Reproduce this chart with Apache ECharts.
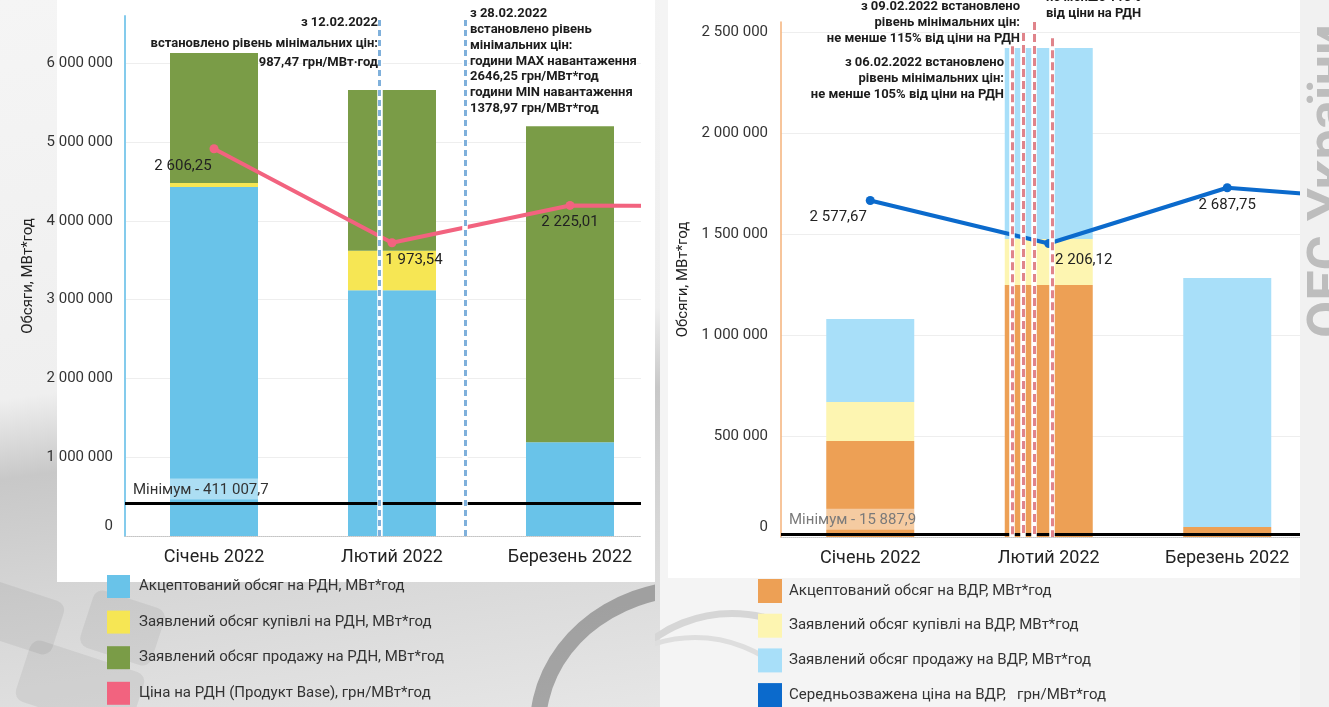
<!DOCTYPE html>
<html>
<head>
<meta charset="utf-8">
<script src="https://cdn.jsdelivr.net/npm/echarts@6/dist/echarts.min.js"></script>
<style>
  html, body { margin:0; padding:0; width:1329px; height:707px; overflow:hidden; background:#f4f4f4; font-family:Roboto, sans-serif; }
  .bg { position:absolute; }
  .clip { position:absolute; top:0; height:707px; overflow:hidden; }
  .key { position:absolute; border-radius:10px; background:rgba(0,0,0,0.06); }
  #mark { position:absolute; left:1300px; top:338px; transform-origin:left top; transform:rotate(-90deg);
          font:bold 54px Roboto, sans-serif; color:#bdbdbd; white-space:nowrap; line-height:1; }
</style>
</head>
<body>
<!-- background photo, rough -->
<div class="bg" style="left:0;top:0;width:660px;height:707px;background:linear-gradient(172deg,#f5f5f5 0%,#efefef 50%,#c8c8c8 60%,#d6d6d6 76%,#e6e6e6 100%)"></div>
<div class="key" style="left:-20px;top:590px;width:80px;height:56px;transform:rotate(18deg)"></div>
<div class="key" style="left:85px;top:598px;width:75px;height:60px;transform:rotate(18deg)"></div>
<div class="key" style="left:20px;top:655px;width:120px;height:64px;transform:rotate(18deg)"></div>
<div class="clip" style="left:440px;top:560px;width:215px;height:147px">
  <div class="bg" style="left:90px;top:20px;width:300px;height:260px;border-radius:50%;border:16px solid rgba(70,70,70,0.4)"></div>
</div>
<div class="bg" style="left:57px;top:0;width:598px;height:582px;background:#fff"></div>
<div class="bg" style="left:668px;top:0;width:632px;height:578px;background:#fff"></div>
<div class="bg" style="left:1300px;top:0;width:29px;height:707px;background:#f1f1f1"></div>
<div class="clip" style="left:655px;top:590px;width:110px;height:117px">
  <div class="bg" style="left:-60px;top:20px;width:260px;height:260px;border-radius:50%;border:7px solid #d6d6d6"></div>
  <div class="bg" style="left:-95px;top:45px;width:260px;height:260px;border-radius:50%;border:5px solid #dedede"></div>
</div>
<div id="mark">ОЕС України</div>

<div class="clip" style="left:0;width:641px"><div id="chartLeft" style="width:900px;height:707px"></div></div>
<div class="clip" style="left:660px;width:640px"><div id="chartRight" style="width:900px;height:707px"></div></div>

<script>
  var months = ['Січень 2022', 'Лютий 2022', 'Березень 2022', 'Квітень 2022'];

  // РДН, МВт*год
  var rdnAccepted = [4430000, 3120000, 1190000, null];
  var rdnBuy      = [50000, 500000, 0, null];
  var rdnSell     = [1650000, 2040000, 4010000, null];
  // ціна РДН, грн/МВт*год
  var rdnPrice    = [2606.25, 1973.54, 2225.01, 2220];
  var rdnMinimum  = 411007.7;
  // дати рішень (місяць + частка місяця)
  var rdnRuleDays = [1.43, 1.905];

  // ВДР, МВт*год
  var vdrAccepted = [475000, 1248000, 50000, null];
  var vdrBuy      = [193000, 227000, 0, null];
  var vdrSell     = [411000, 946000, 1232000, null];
  var vdrPrice    = [2577.67, 2206.12, 2687.75, 2570];
  var vdrMinimum  = 15887.9;
  var vdrRuleDays = [1.294, 1.356, 1.417, 1.518];
  var vdrRuleTops = [2430000, 2495000, 2550000, 2470000];

  var rdnNames = ['Акцептований обсяг на РДН, МВт*год', 'Заявлений обсяг купівлі на РДН, МВт*год',
                  'Заявлений обсяг продажу на РДН, МВт*год', 'Ціна на РДН (Продукт Base), грн/МВт*год'];
  var vdrNames = ['Акцептований обсяг на ВДР, МВт*год', 'Заявлений обсяг купівлі на ВДР, МВт*год',
                  'Заявлений обсяг продажу на ВДР, МВт*год', 'Середньозважена ціна на ВДР,   грн/МВт*год'];

  var rdnNotes = [
    { text: 'з 12.02.2022', x: 378, y: 23, align: 'right' },
    { text: 'встановлено рівень мінімальних цін:', x: 378, y: 44, align: 'right' },
    { text: '987,47 грн/МВт·год', x: 378, y: 63, align: 'right' },
    { text: 'з 28.02.2022\nвстановлено рівень\nмінімальних цін:\nгодини MAX навантаження\n2646,25 грн/МВт*год\nгодини MIN навантаження\n1378,97 грн/МВт*год',
      x: 470, y: 6, align: 'left', top: true }
  ];
  var vdrNotes = [
    { text: 'з 09.02.2022 встановлено\nрівень мінімальних цін:\nне менше 115% від ціни на РДН', x: 360, y: -1, align: 'right', top: true },
    { text: 'з 06.02.2022 встановлено\nрівень мінімальних цін:\nне менше 105% від ціни на РДН', x: 344, y: 55, align: 'right', top: true },
    { text: 'не менше 110%\nвід ціни на РДН', x: 386, y: -10, align: 'left', top: true }
  ];

  function groupNum(s) { return s.replace(/\B(?=(\d{3})+(?!\d))/g, ' '); }
  function fmtInt(v) { return groupNum(String(Math.round(v))); }
  function fmtDec(v, d) { var p = v.toFixed(d).split('.'); return groupNum(p[0]) + ',' + p[1]; }

  function buildOption(c) {
    var priceData = c.price.map(function (v, i) {
      return { value: v, label: { offset: [c.labelShift[i], 0], show: i < 3 } };
    });
    var rules = [];
    c.ruleDays.forEach(function (d, i) {
      [{ color: '#fff', width: 5.5, type: 'solid' }, { color: c.ruleColor, width: 3, type: c.ruleDash }].forEach(function (ls) {
        if (c.ruleTops) {
          rules.push([{ coord: [d, c.ruleTops[i]], lineStyle: ls }, { coord: [d, 0] }]);
        } else {
          rules.push({ xAxis: d, lineStyle: ls });
        }
      });
    });
    return {
      animation: false,
      textStyle: { fontFamily: 'Roboto' },
      grid: { left: c.grid[0], top: c.grid[1], width: c.grid[2], height: c.grid[3], outerBoundsMode: 'none' },
      legend: {
        orient: 'vertical', left: c.legend[0], top: c.legend[1], padding: 0, height: 160,
        itemWidth: c.legend[2], itemHeight: c.legend[2], itemGap: c.legend[3],
        icon: 'rect', selectedMode: false,
        textStyle: { fontSize: 15, color: '#333', padding: [3, 0, 0, c.legend[4]] },
        data: c.names
      },
      xAxis: [{
        type: 'category', data: months,
        axisLine: { lineStyle: { color: '#c4c4c4', type: 'dotted' } },
        axisTick: { length: 7, lineStyle: { color: '#dedede' } },
        axisLabel: { fontSize: 18, color: '#222', margin: 12 }
      }, {
        type: 'value', min: 0, max: months.length, show: false
      }],
      yAxis: [{
        type: 'value', min: 0, max: c.volMax, interval: c.volStep,
        name: 'Обсяги, МВт*год', nameLocation: 'middle', nameGap: 75,
        nameTextStyle: { fontSize: 15, color: '#222' },
        axisLine: { show: true, lineStyle: { color: c.axisColor, width: c.axisWidth } },
        axisTick: { show: false },
        axisLabel: {
          fontSize: 15, color: '#333', margin: c.labelMargin, showMaxLabel: false,
          formatter: function (v) { return v === 0 ? '{z|0}' : fmtInt(v); },
          rich: { z: { fontSize: 15, color: '#333', padding: [0, 0, 20, 0] } }
        },
        splitLine: { lineStyle: { color: '#eeeeee' }, showMaxLine: false }
      }, {
        type: 'value', min: c.priceRange[0], max: c.priceRange[1], show: false
      }],
      graphic: c.notes.map(function (n) {
        return {
          type: 'text', x: n.x, y: n.y, z: 10,
          style: {
            text: n.text, textAlign: n.align, textVerticalAlign: n.top ? 'top' : 'middle',
            font: 'bold 13px Roboto', fill: '#1c1c1c', lineHeight: 15.8
          }
        };
      }),
      series: [
        { name: c.names[0], type: 'bar', stack: 'v', barWidth: 88, data: c.accepted, itemStyle: { color: c.colors[0] } },
        { name: c.names[1], type: 'bar', stack: 'v', barWidth: 88, data: c.buy, itemStyle: { color: c.colors[1] } },
        { name: c.names[2], type: 'bar', stack: 'v', barWidth: 88, data: c.sell, itemStyle: { color: c.colors[2] } },
        {
          name: c.names[3], type: 'line', yAxisIndex: 1, z: 4, data: priceData,
          symbol: 'circle', symbolSize: 9,
          lineStyle: { color: c.colors[3], width: 4 },
          itemStyle: { color: c.colors[3] },
          label: {
            show: true, position: 'bottom', distance: 5, fontSize: 15, color: '#222',
            formatter: function (p) { return fmtDec(p.value, 2); }
          }
        },
        {
          type: 'line', xAxisIndex: 1, z: 3, data: [],
          markLine: {
            silent: true, symbol: 'none', animation: false,
            lineStyle: { color: '#000', width: 3, type: 'solid' },
            label: {
              show: true, position: 'insideStartTop', distance: [5, 4],
              formatter: 'Мінімум - ' + fmtDec(c.minimum, 1),
              fontSize: 15, color: c.minColor,
              backgroundColor: 'rgba(255,255,255,0.45)', padding: [4, 3, 2, 3]
            },
            data: [{ yAxis: c.minimum }]
          }
        },
        {
          type: 'line', xAxisIndex: 1, z: 6, data: [],
          markLine: { silent: true, symbol: 'none', animation: false, label: { show: false }, data: rules }
        }
      ]
    };
  }

  var chartLeft = echarts.init(document.getElementById('chartLeft'));
  chartLeft.setOption(buildOption({
    grid: [125, 16, 712, 520],
    legend: [107, 575, 23, 12.6, 4],
    names: rdnNames,
    colors: ['#69c3e9', '#f6e654', '#7a9c47', '#f2637f'],
    accepted: rdnAccepted, buy: rdnBuy, sell: rdnSell, price: rdnPrice,
    labelShift: [-31, 22, 0, 0],
    volMax: 6600000, volStep: 1000000, priceRange: [0, 3500],
    axisColor: '#84cbec', axisWidth: 2, labelMargin: 12,
    minimum: rdnMinimum, minColor: '#333',
    ruleDays: rdnRuleDays, ruleColor: '#7fb0db', ruleDash: [6, 4],
    notes: rdnNotes
  }));

  var chartRight = echarts.init(document.getElementById('chartRight'));
  chartRight.setOption(buildOption({
    grid: [121, 22, 714, 515],
    legend: [98, 579, 24, 10.7, 2],
    names: vdrNames,
    colors: ['#eda055', '#fdf5b1', '#a8dff9', '#0b6acc'],
    accepted: vdrAccepted, buy: vdrBuy, sell: vdrSell, price: vdrPrice,
    labelShift: [-32, 35, 0, 0],
    volMax: 2550000, volStep: 500000, priceRange: [-330, 4120],
    axisColor: '#f4b27a', axisWidth: 1.5, labelMargin: 13,
    minimum: vdrMinimum, minColor: '#7a7a7a',
    ruleDays: vdrRuleDays, ruleTops: vdrRuleTops, ruleColor: '#e0848b', ruleDash: [8, 4],
    notes: vdrNotes
  }));
</script>
</body>
</html>
